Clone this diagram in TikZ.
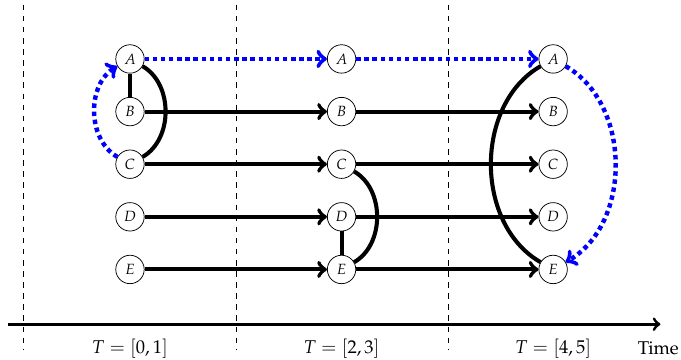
\documentclass[tikz,border=0pt]{standalone}
\usepackage[T1]{fontenc}
\usepackage{mathpazo}
\usepackage{tikz}

\begin{document}
\begin{tikzpicture}[font=\normalsize,
    vert/.style={circle, draw, thin, fill=white, inner sep=0pt, minimum size=0.54cm, font=\footnotesize},
    link/.style={line width=2.2pt},
    flow/.style={line width=2.2pt, ->},
    msg/.style={blue, line width=2.4pt, dotted, ->}]
  \useasboundingbox (-2.47,1.12) rectangle (10.47,-5.72);
  % time slots
  \foreach \x in {-2.02,2.02,6.05}
    \draw[dashed, thin] (\x,1.03) -- (\x,-5.53);
  \coordinate (t0) at (-2.32,-5.04);
  \coordinate (t1) at (10.08,-5.04);
  \draw[->, line width=1.6pt] (t0) -- (t1);
  \foreach \i/\lab in {0/{[0,1]},1/{[2,3]},2/{[4,5]}}
    \node (slot\i) at (4.02*\i,-5.51) {$T=\lab$};
  \node (time) at (10.04,-5.5) {Time};
  % processes
  \foreach \i in {0,1,2}
    \foreach \p [count=\k] in {A,B,C,D,E}
      \node[vert] (\p\i) at (4.02*\i,{1-\k}) {$\p$};
  \foreach \p in {B,C,D,E} {
    \draw[flow] (\p0) -- (\p1);
    \draw[flow] (\p1) -- (\p2);
  }
  \draw[msg] (A0) -- (A1);
  \draw[msg] (A1) -- (A2);
  % links inside each slot
  \draw[link] (A0) -- (B0);
  \draw[link] (A0) to[bend left=60] (C0);
  \draw[msg] (C0) to[bend left=60] (A0);
  \draw[link] (D1) -- (E1);
  \draw[link] (C1) to[bend left=60] (E1);
  \draw[link] (A2) to[bend right=60] (E2);
  \draw[msg] (A2) to[bend left=60] (E2);
\end{tikzpicture}
\end{document}
